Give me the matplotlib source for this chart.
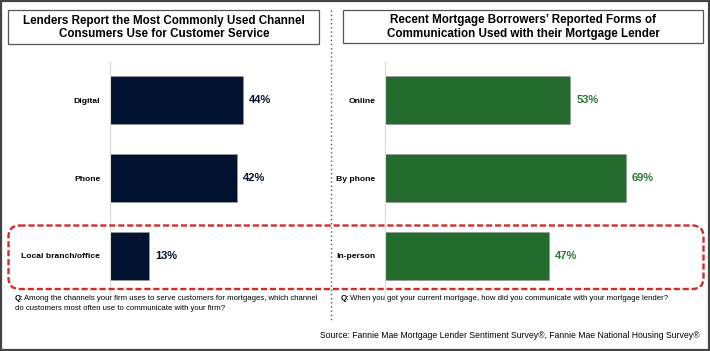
import matplotlib
matplotlib.use('Agg')

import matplotlib.pyplot as plt
from matplotlib.patches import Rectangle, FancyBboxPatch
from matplotlib.lines import Line2D

plt.rcParams['font.family'] = ['Liberation Sans', 'DejaVu Sans']

# data
left_cats = ['Digital', 'Phone', 'Local branch/office']
left_vals = [44, 42, 13]
right_cats = ['Online', 'By phone', 'In-person']
right_vals = [53, 69, 47]

left_title = 'Lenders Report the Most Commonly Used Channel\nConsumers Use for Customer Service'
right_title = "Recent Mortgage Borrowers\u2019 Reported Forms of\nCommunication Used with their Mortgage Lender"
left_q = ['Among the channels your firm uses to serve customers for mortgages, which channel',
          'do customers most often use to communicate with your firm?']
right_q = 'When you got your current mortgage, how did you communicate with your mortgage lender?'
source = ('Source: Fannie Mae Mortgage Lender Sentiment Survey\u00ae, '
          'Fannie Mae National Housing Survey\u00ae')

NAVY = '#021331'
GREEN = '#246b2e'
GREEN_TXT = '#2a7a33'
RED = '#d42a2a'

W, H = 710, 351
fig = plt.figure(figsize=(W / 100, H / 100), dpi=100)


def px_axes(x0, y0, x1, y1):
    # axes placed by pixel box (top-left origin)
    return fig.add_axes([x0 / W, 1 - y1 / H, (x1 - x0) / W, (y1 - y0) / H])


def bar_panel(ax, cats, vals, color, txt_color, px_per_unit, width_px):
    y = list(range(len(cats)))
    ax.barh(y, vals, height=0.615, color=color, edgecolor='#9a9a9a', linewidth=0.5)
    ax.set_xlim(0, width_px / px_per_unit)
    ax.set_ylim(len(cats) - 0.5, -0.5)
    for s in ['top', 'right', 'bottom']:
        ax.spines[s].set_visible(False)
    ax.spines['left'].set_color('#d9d9d9')
    ax.spines['left'].set_linewidth(0.8)
    ax.set_xticks([])
    ax.set_yticks(y)
    ax.set_yticklabels(cats, fontsize=6.1, fontweight='bold')
    ax.tick_params(axis='y', length=0, pad=7)
    ax.patch.set_alpha(0)
    for yi, v in zip(y, vals):
        ax.annotate(f'{v}%', (v, yi), xytext=(4.5, 0), textcoords='offset points',
                    va='center', ha='left', fontsize=8, fontweight='bold',
                    color=txt_color)


ax_l = px_axes(110, 61, 320, 295)
bar_panel(ax_l, left_cats, left_vals, NAVY, NAVY, 3.02, 210)

ax_r = px_axes(385, 61, 700, 295)
bar_panel(ax_r, right_cats, right_vals, GREEN, GREEN_TXT, 3.49, 315)

# overlay in pixel units for frames and notes
ov = fig.add_axes([0, 0, 1, 1], zorder=5)
ov.set_xlim(0, W)
ov.set_ylim(H, 0)
ov.axis('off')
ov.patch.set_alpha(0)

ov.add_patch(Rectangle((1, 1), W - 2, H - 2, fill=False, edgecolor='#444444', linewidth=1.6))
ov.add_patch(Rectangle((8, 10), 311, 34, fill=False, edgecolor='#555555', linewidth=0.9))
ov.add_patch(Rectangle((343, 10), 360, 33, fill=False, edgecolor='#555555', linewidth=0.9))
ov.text(164, 27.5, left_title, ha='center', va='center', fontsize=8.4,
        fontweight='bold', linespacing=1.2)
ov.text(523, 27, right_title, ha='center', va='center', fontsize=8.4,
        fontweight='bold', linespacing=1.2)

ov.add_line(Line2D([331, 331], [10, 320], color='#555555', linewidth=1, linestyle=(0, (1, 2))))

ov.add_patch(FancyBboxPatch((8.5, 225.5), 695, 63.5, boxstyle='round,pad=0,rounding_size=11',
                            fill=False, edgecolor=RED, linewidth=1.7,
                            linestyle=(0, (2.6, 1.2))))

QFS = 5.6
ov.text(15, 299, 'Q:', fontsize=QFS, fontweight='bold', va='center', ha='left')
ov.text(24.5, 299, left_q[0], fontsize=QFS, va='center', ha='left')
ov.text(15, 308.5, left_q[1], fontsize=QFS, va='center', ha='left')
ov.text(341, 299, 'Q:', fontsize=QFS, fontweight='bold', va='center', ha='left')
ov.text(350.5, 299, right_q, fontsize=QFS, va='center', ha='left')

ov.text(700, 336, source, fontsize=6.25, va='center', ha='right')

fig.savefig('out.png', dpi=100)
